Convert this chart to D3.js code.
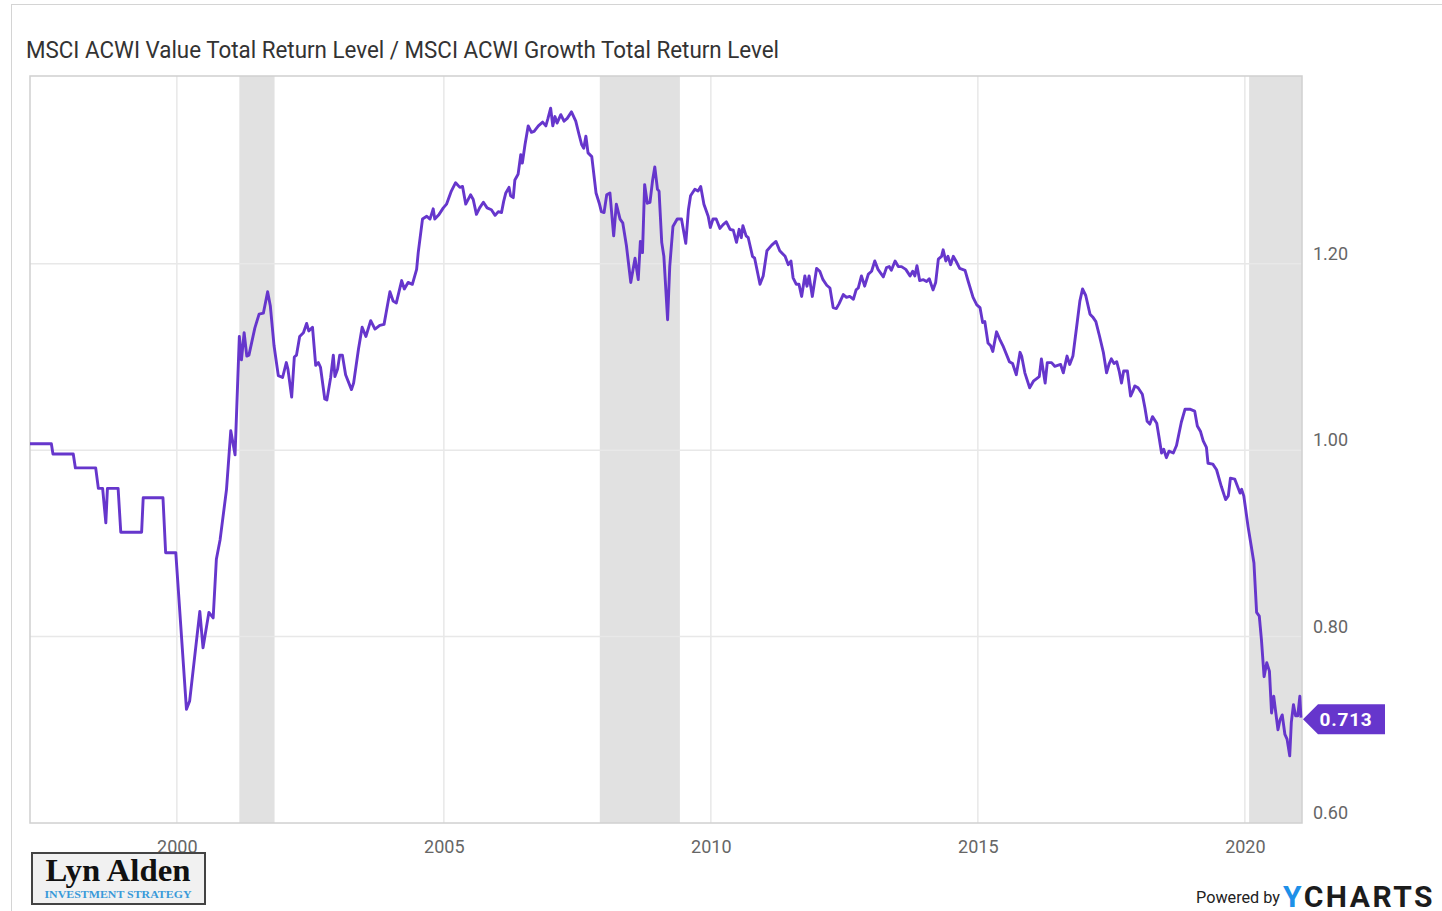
<!DOCTYPE html>
<html>
<head>
<meta charset="utf-8">
<script src="https://cdn.jsdelivr.net/npm/d3@7"></script>
<style>
  body { margin: 0; background: #fff; }
  svg { display: block; }
</style>
</head>
<body>
<div id="chart"></div>
<script>
// ratio series, [decimal year, value]
const ratioSeries = [
  [1997.25,1.007],[1997.65,1.007],[1997.68,0.996],[1998.06,0.996],[1998.10,0.981],[1998.48,0.981],
  [1998.53,0.959],[1998.61,0.959],[1998.67,0.922],[1998.70,0.959],[1998.90,0.959],[1998.95,0.912],
  [1999.34,0.912],[1999.37,0.949],[1999.74,0.949],[1999.79,0.890],[1999.98,0.890],[2000.18,0.722],
  [2000.24,0.731],[2000.43,0.827],[2000.49,0.788],[2000.60,0.826],[2000.68,0.820],[2000.74,0.883],
  [2000.81,0.904],[2000.93,0.958],[2001.01,1.021],[2001.09,0.995],[2001.17,1.122],[2001.21,1.097],
  [2001.26,1.126],[2001.31,1.101],[2001.35,1.102],[2001.46,1.131],[2001.54,1.146],[2001.62,1.147],
  [2001.70,1.170],[2001.75,1.155],[2001.82,1.112],[2001.90,1.080],[2001.98,1.078],[2002.05,1.094],
  [2002.08,1.087],[2002.15,1.057],[2002.20,1.100],[2002.24,1.102],[2002.30,1.122],[2002.37,1.126],
  [2002.43,1.136],[2002.47,1.128],[2002.54,1.132],[2002.60,1.091],[2002.65,1.094],[2002.69,1.089],
  [2002.77,1.055],[2002.81,1.054],[2002.88,1.078],[2002.93,1.102],[2002.96,1.079],[2003.01,1.087],
  [2003.05,1.102],[2003.10,1.102],[2003.16,1.081],[2003.27,1.065],[2003.31,1.072],[2003.40,1.108],
  [2003.47,1.132],[2003.54,1.122],[2003.63,1.139],[2003.71,1.130],[2003.80,1.134],[2003.88,1.135],
  [2003.93,1.151],[2003.99,1.170],[2004.05,1.160],[2004.11,1.158],[2004.21,1.182],[2004.26,1.173],
  [2004.33,1.180],[2004.41,1.178],[2004.49,1.194],[2004.52,1.212],[2004.60,1.248],[2004.68,1.251],
  [2004.74,1.248],[2004.80,1.259],[2004.83,1.248],[2004.91,1.253],[2004.99,1.260],[2005.05,1.264],
  [2005.14,1.278],[2005.22,1.287],[2005.30,1.282],[2005.35,1.283],[2005.41,1.264],[2005.50,1.274],
  [2005.55,1.269],[2005.61,1.253],[2005.67,1.260],[2005.74,1.266],[2005.81,1.260],[2005.89,1.258],
  [2005.96,1.252],[2006.02,1.256],[2006.08,1.255],[2006.12,1.267],[2006.16,1.276],[2006.22,1.282],
  [2006.25,1.273],[2006.30,1.271],[2006.33,1.290],[2006.39,1.296],[2006.44,1.317],[2006.47,1.308],
  [2006.52,1.328],[2006.58,1.348],[2006.64,1.341],[2006.69,1.342],[2006.77,1.348],[2006.85,1.352],
  [2006.91,1.348],[2006.95,1.356],[2007.00,1.367],[2007.04,1.348],[2007.08,1.358],[2007.12,1.351],
  [2007.19,1.360],[2007.25,1.353],[2007.31,1.356],[2007.39,1.363],[2007.47,1.353],[2007.53,1.339],
  [2007.58,1.328],[2007.62,1.324],[2007.66,1.337],[2007.70,1.319],[2007.77,1.315],[2007.85,1.276],
  [2007.91,1.265],[2007.95,1.256],[2008.00,1.255],[2008.05,1.274],[2008.11,1.276],[2008.18,1.230],
  [2008.23,1.264],[2008.30,1.248],[2008.35,1.244],[2008.42,1.219],[2008.50,1.180],[2008.58,1.206],
  [2008.64,1.183],[2008.68,1.224],[2008.72,1.212],[2008.76,1.285],[2008.81,1.265],[2008.86,1.266],
  [2008.91,1.290],[2008.95,1.304],[2009.00,1.280],[2009.03,1.278],[2009.08,1.223],[2009.12,1.208],
  [2009.19,1.140],[2009.23,1.197],[2009.29,1.240],[2009.37,1.248],[2009.45,1.248],[2009.53,1.222],
  [2009.58,1.258],[2009.62,1.273],[2009.70,1.280],[2009.76,1.278],[2009.81,1.283],[2009.87,1.264],
  [2009.95,1.251],[2009.99,1.239],[2010.04,1.248],[2010.10,1.248],[2010.17,1.238],[2010.23,1.242],
  [2010.29,1.245],[2010.36,1.237],[2010.42,1.236],[2010.48,1.223],[2010.53,1.237],[2010.57,1.228],
  [2010.60,1.241],[2010.66,1.230],[2010.70,1.228],[2010.78,1.208],[2010.82,1.206],[2010.92,1.178],
  [2010.98,1.187],[2011.05,1.214],[2011.14,1.220],[2011.22,1.224],[2011.29,1.214],[2011.39,1.208],
  [2011.45,1.199],[2011.50,1.203],[2011.54,1.185],[2011.60,1.178],[2011.65,1.178],[2011.70,1.165],
  [2011.76,1.187],[2011.80,1.176],[2011.84,1.187],[2011.90,1.165],[2011.98,1.195],[2012.04,1.192],
  [2012.10,1.183],[2012.17,1.177],[2012.23,1.174],[2012.29,1.153],[2012.35,1.152],[2012.40,1.157],
  [2012.48,1.167],[2012.54,1.164],[2012.60,1.165],[2012.67,1.162],[2012.72,1.172],[2012.76,1.174],
  [2012.82,1.187],[2012.88,1.176],[2012.95,1.189],[2013.01,1.192],[2013.07,1.203],[2013.13,1.194],
  [2013.23,1.186],[2013.29,1.196],[2013.34,1.197],[2013.38,1.193],[2013.45,1.203],[2013.51,1.197],
  [2013.57,1.197],[2013.65,1.194],[2013.73,1.187],[2013.78,1.192],[2013.82,1.187],[2013.86,1.198],
  [2013.91,1.182],[2013.98,1.183],[2014.04,1.181],[2014.09,1.184],[2014.16,1.172],[2014.21,1.180],
  [2014.26,1.205],[2014.32,1.208],[2014.35,1.215],[2014.40,1.203],[2014.44,1.208],[2014.49,1.199],
  [2014.54,1.208],[2014.59,1.203],[2014.66,1.195],[2014.76,1.193],[2014.82,1.181],[2014.91,1.164],
  [2014.98,1.156],[2015.04,1.153],[2015.09,1.137],[2015.13,1.138],[2015.19,1.115],[2015.24,1.112],
  [2015.28,1.106],[2015.35,1.127],[2015.41,1.119],[2015.47,1.112],[2015.59,1.095],[2015.65,1.093],
  [2015.72,1.081],[2015.79,1.105],[2015.82,1.101],[2015.88,1.083],[2015.97,1.067],[2016.04,1.074],
  [2016.15,1.079],[2016.19,1.098],[2016.26,1.072],[2016.30,1.094],[2016.38,1.094],[2016.44,1.090],
  [2016.55,1.092],[2016.60,1.083],[2016.67,1.101],[2016.72,1.092],[2016.78,1.101],[2016.86,1.137],
  [2016.91,1.160],[2016.96,1.173],[2017.02,1.166],[2017.10,1.146],[2017.15,1.143],[2017.21,1.138],
  [2017.28,1.122],[2017.35,1.105],[2017.41,1.083],[2017.46,1.093],[2017.50,1.098],[2017.55,1.093],
  [2017.60,1.095],[2017.65,1.084],[2017.69,1.072],[2017.73,1.085],[2017.80,1.085],[2017.86,1.058],
  [2017.90,1.063],[2017.94,1.069],[2018.00,1.067],[2018.08,1.060],[2018.13,1.045],[2018.17,1.031],
  [2018.22,1.028],[2018.27,1.036],[2018.35,1.029],[2018.39,1.015],[2018.44,0.997],[2018.48,1.001],
  [2018.53,0.992],[2018.58,0.999],[2018.66,0.997],[2018.72,1.005],[2018.77,1.019],[2018.81,1.030],
  [2018.88,1.044],[2018.97,1.044],[2019.06,1.042],[2019.11,1.026],[2019.17,1.020],[2019.22,1.010],
  [2019.28,1.003],[2019.31,0.986],[2019.40,0.985],[2019.47,0.979],[2019.56,0.961],[2019.64,0.947],
  [2019.69,0.951],[2019.73,0.970],[2019.81,0.969],[2019.91,0.954],[2019.94,0.958],[2019.98,0.951],
  [2020.06,0.918],[2020.12,0.897],[2020.17,0.879],[2020.22,0.826],[2020.27,0.822],[2020.31,0.797],
  [2020.36,0.757],[2020.41,0.772],[2020.46,0.763],[2020.50,0.718],[2020.54,0.736],[2020.58,0.718],
  [2020.62,0.700],[2020.66,0.711],[2020.70,0.716],[2020.75,0.695],[2020.79,0.690],[2020.84,0.672],
  [2020.87,0.708],[2020.91,0.727],[2020.95,0.715],[2020.99,0.715],[2021.03,0.736],[2021.05,0.713]
];

// recession shading [start, end]
const recessions = [[2001.17, 2001.83], [2007.92, 2009.42], [2020.08, 2021.07]];

const xTicks = [2000, 2005, 2010, 2015, 2020];
const yTicks = [0.60, 0.80, 1.00, 1.20];
const lastValue = "0.713";

const title = "MSCI ACWI Value Total Return Level / MSCI ACWI Growth Total Return Level";

const W = 1442, H = 911;
const plot = {left: 30, right: 1302, top: 76, bottom: 823};
const purple = "#6636cc";

const svg = d3.select("#chart").append("svg")
  .attr("width", W).attr("height", H)
  .style("font-family", "Roboto, sans-serif");

// card outline
svg.append("rect")
  .attr("x", 11.5).attr("y", 4.5)
  .attr("width", W).attr("height", H)
  .attr("fill", "none").attr("stroke", "#d4d4d4");

svg.append("text")
  .attr("x", 26).attr("y", 58)
  .attr("font-size", 23).attr("fill", "#333")
  .attr("textLength", 753).attr("lengthAdjust", "spacingAndGlyphs")
  .text(title);

const x = d3.scaleLinear().domain([1997.25, 2021.07]).range([plot.left, plot.right]);
const y = d3.scaleLinear().domain([0.6, 1.4015]).range([plot.bottom, plot.top]);

const g = svg.append("g");

// recession bands
g.selectAll(".rec").data(recessions).enter().append("rect")
  .attr("class", "rec")
  .attr("x", d => x(d[0]))
  .attr("width", d => x(Math.min(d[1], 2021.07)) - x(d[0]))
  .attr("y", plot.top).attr("height", plot.bottom - plot.top)
  .attr("fill", "#e1e1e1");

// grid
g.selectAll(".vg").data(xTicks).enter().append("line")
  .attr("x1", d => x(d)).attr("x2", d => x(d))
  .attr("y1", plot.top).attr("y2", plot.bottom)
  .attr("stroke", "#e8e8e8").attr("stroke-width", 1.5);

g.selectAll(".hg").data(yTicks.filter(d => d > 0.6)).enter().append("line")
  .attr("x1", plot.left).attr("x2", plot.right)
  .attr("y1", d => y(d)).attr("y2", d => y(d))
  .attr("stroke", "#e8e8e8").attr("stroke-width", 1.5);

// plot frame
g.append("rect")
  .attr("x", plot.left).attr("y", plot.top)
  .attr("width", plot.right - plot.left).attr("height", plot.bottom - plot.top)
  .attr("fill", "none").attr("stroke", "#d0d0d0").attr("stroke-width", 1.5);

// axes labels
const xAxis = d3.axisBottom(x).tickValues(xTicks).tickFormat(d3.format("d")).tickSize(0).tickPadding(17);
svg.append("g").attr("transform", `translate(0,${plot.bottom})`).call(xAxis)
  .call(a => a.select(".domain").remove())
  .selectAll("text").attr("font-size", 18).attr("fill", "#666").attr("font-family", "Roboto, sans-serif");

const yAxis = d3.axisRight(y).tickValues(yTicks).tickFormat(d3.format(".2f")).tickSize(0).tickPadding(11);
svg.append("g").attr("transform", `translate(${plot.right},0)`).call(yAxis)
  .call(a => a.select(".domain").remove())
  .selectAll("text").attr("font-size", 18).attr("fill", "#666").attr("dy", "-0.25em")
  .attr("font-family", "Roboto, sans-serif");

// line
const line = d3.line().x(d => x(d[0])).y(d => y(d[1]));
g.append("path").datum(ratioSeries)
  .attr("d", line)
  .attr("fill", "none").attr("stroke", purple)
  .attr("stroke-width", 2.9).attr("stroke-linejoin", "round");

// last value flag
const ly = y(ratioSeries[ratioSeries.length - 1][1]) + 1.5;
const tipX = plot.right + 1;
svg.append("path")
  .attr("d", `M${tipX},${ly} L${tipX + 15},${ly - 15} L1385,${ly - 15} L1385,${ly + 15} L${tipX + 15},${ly + 15} Z`)
  .attr("fill", purple);
svg.append("text")
  .attr("x", 1346).attr("y", ly + 6.5)
  .attr("text-anchor", "middle").attr("font-size", 19).attr("font-weight", "bold")
  .attr("letter-spacing", 0.8).attr("fill", "#fff")
  .text(lastValue);

// logo
const logo = svg.append("g");
logo.append("rect")
  .attr("x", 32).attr("y", 853).attr("width", 173).attr("height", 51)
  .attr("fill", "#f1f1f1").attr("stroke", "#444").attr("stroke-width", 2);
logo.append("text")
  .attr("x", 118).attr("y", 881)
  .attr("text-anchor", "middle").attr("font-family", "'Liberation Serif', 'DejaVu Serif', serif")
  .attr("font-size", 31).attr("font-weight", "bold").attr("fill", "#111")
  .attr("textLength", 145).attr("lengthAdjust", "spacingAndGlyphs")
  .text("Lyn Alden");
logo.append("text")
  .attr("x", 118).attr("y", 898)
  .attr("text-anchor", "middle").attr("font-family", "'Liberation Serif', serif")
  .attr("font-size", 10).attr("font-weight", "bold").attr("fill", "#3a9ad9")
  .attr("textLength", 147).attr("lengthAdjust", "spacingAndGlyphs")
  .text("INVESTMENT STRATEGY");

// powered by
svg.append("text")
  .attr("x", 1196).attr("y", 903)
  .attr("font-size", 17).attr("fill", "#222")
  .attr("textLength", 84).attr("lengthAdjust", "spacingAndGlyphs")
  .text("Powered by");
const yc = svg.append("text")
  .attr("x", 1283).attr("y", 907)
  .attr("font-size", 30).attr("font-weight", "bold")
  .attr("letter-spacing", 2.5);
yc.append("tspan").attr("fill", "#1e90e8").text("Y");
yc.append("tspan").attr("fill", "#1c1c1c").text("CHARTS");
</script>
</body>
</html>
